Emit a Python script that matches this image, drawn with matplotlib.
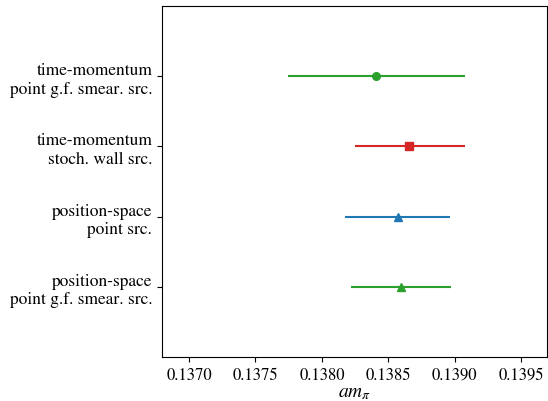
import matplotlib.pyplot as plt

plt.rcParams["font.family"] = "serif"
plt.rcParams["font.serif"] = ["STIXGeneral", "Liberation Serif", "DejaVu Serif"]
plt.rcParams["mathtext.fontset"] = "stix"

# bottom to top
labels = [
    "position-space\npoint g.f. smear. src.",
    "position-space\npoint src.",
    "time-momentum\nstoch. wall src.",
    "time-momentum\npoint g.f. smear. src.",
]
am_pi = [0.138595, 0.138570, 0.138658, 0.138406]
err_lo = [0.000375, 0.000395, 0.000408, 0.000663]
err_hi = [0.000376, 0.000395, 0.000418, 0.000672]
colors = ["tab:green", "tab:blue", "tab:red", "tab:green"]
markers = ["^", "^", "s", "o"]

fig = plt.figure(figsize=(5.48, 4.02), dpi=100)
ax = fig.add_axes([162 / 548, 44 / 402, 385 / 548, 351 / 402])

for i in range(len(labels)):
    ax.errorbar(am_pi[i], i, xerr=[[err_lo[i]], [err_hi[i]]],
                color=colors[i], marker=markers[i], markersize=5.5,
                linewidth=1.5)

ax.set_yticks(range(len(labels)))
ax.set_yticklabels(labels, fontsize=12.5)
ax.set_ylim(-1, 4)
ax.set_xlim(0.136797, 0.139693)
ax.set_xticks([0.1370, 0.1375, 0.1380, 0.1385, 0.1390, 0.1395])
ax.set_xticklabels(["0.1370", "0.1375", "0.1380", "0.1385", "0.1390", "0.1395"])
ax.tick_params(axis="x", labelsize=12)
ax.set_xlabel(r"$am_\pi$", fontsize=14, labelpad=1)

fig.savefig("out.png", dpi=100)
